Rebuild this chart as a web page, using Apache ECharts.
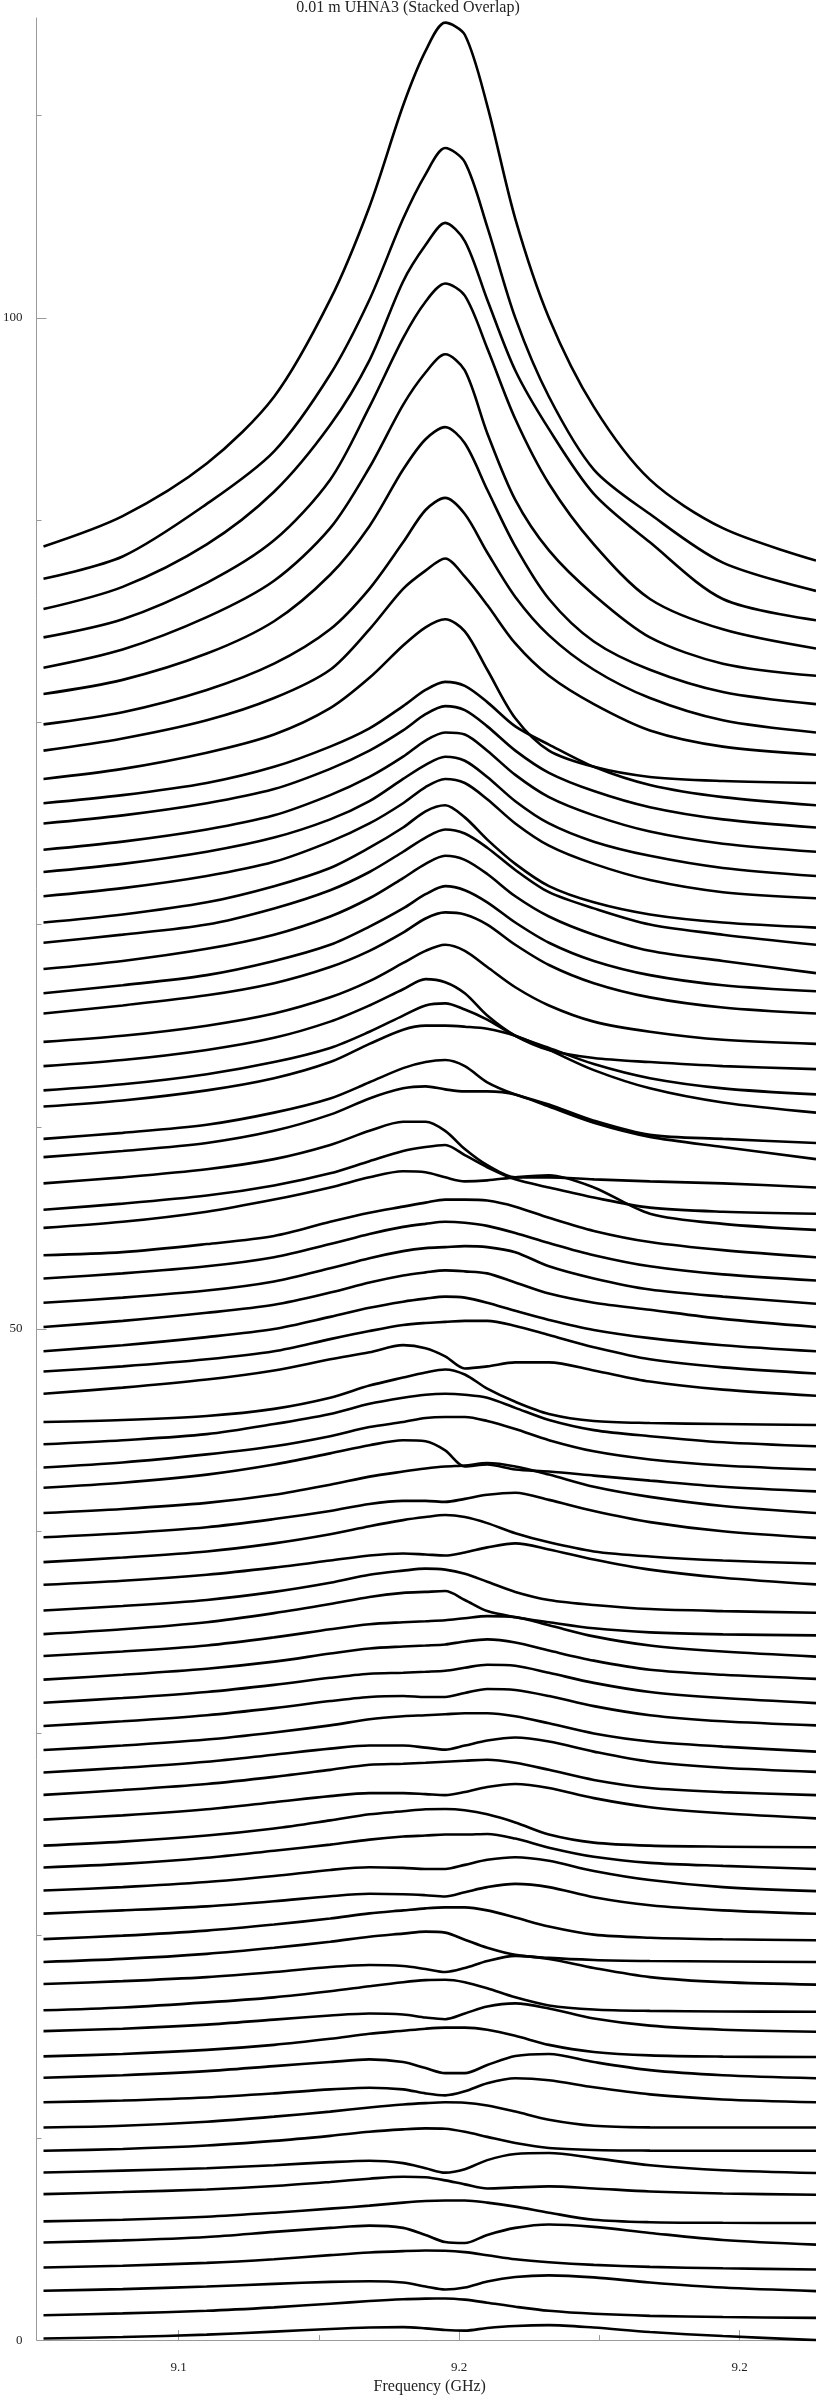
<!DOCTYPE html>
<html><head><meta charset="utf-8">
<script src="https://cdn.jsdelivr.net/npm/echarts@6/dist/echarts.min.js"></script>
<style>html,body{margin:0;padding:0;background:#fff}#chart{width:816px;height:2400px}</style>
</head><body><div id="chart"></div>
<script>
const chartTitle = '0.01 m UHNA3 (Stacked Overlap)';
const xAxisTitle = 'Frequency (GHz)';
const freqGHz = [9.1259, 9.140, 9.155, 9.167, 9.177, 9.184, 9.190, 9.194, 9.1975, 9.201, 9.205, 9.210, 9.216, 9.224, 9.234, 9.247, 9.2636];
const xMajorTicks = [9.15, 9.2, 9.25];
const xMajorLabels = ['9.1', '9.2', '9.2'];
const xMinorTicks = [9.175, 9.225];
const yMajorTicks = [0, 50, 100];
const yMajorLabels = ['0', '50', '100'];
const yMinorTicks = [10, 20, 30, 40, 60, 70, 80, 90, 110];

const trace01 = [88.7, 90.2, 92.8, 96.1, 100.9, 105.5, 110.5, 113.2, 114.6, 114.0, 110.5, 104.9, 100.0, 95.6, 92.0, 89.6, 88.0];
const trace02 = [87.1, 88.2, 90.8, 93.4, 97.2, 100.9, 104.9, 107.1, 108.4, 107.7, 104.5, 100.0, 96.1, 92.5, 90.3, 87.9, 86.5];
const trace03 = [85.6, 86.7, 88.8, 91.4, 94.7, 97.9, 101.8, 103.6, 104.7, 103.8, 100.9, 97.4, 94.5, 91.3, 88.9, 86.1, 85.05];
const trace04 = [84.2, 85.1, 86.9, 89.0, 92.0, 95.6, 99.0, 100.8, 101.7, 101.1, 98.5, 95.0, 91.8, 88.8, 86.1, 84.6, 83.65];
const trace05 = [82.7, 83.6, 85.2, 87.0, 89.6, 92.6, 95.7, 97.3, 98.2, 97.4, 94.3, 91.0, 88.5, 86.3, 84.2, 82.9, 82.3];
const trace06 = [81.4, 82.1, 83.4, 85.0, 87.3, 89.7, 92.5, 94.0, 94.6, 93.8, 91.5, 88.7, 86.1, 84.0, 82.6, 81.5, 80.9];
const trace07 = [79.9, 80.5, 81.6, 82.9, 84.6, 86.6, 88.9, 90.5, 91.1, 90.3, 88.4, 86.2, 84.3, 82.6, 81.2, 80.1, 79.5];
const trace08 = [78.6, 79.2, 80.1, 81.2, 82.6, 84.6, 86.6, 87.5, 88.1, 87.2, 85.8, 83.9, 82.3, 80.9, 79.6, 78.8, 78.4];
const trace09 = [77.2, 77.7, 78.5, 79.4, 80.7, 82.2, 83.8, 84.7, 85.1, 84.5, 82.6, 80.2, 78.6, 77.8, 77.3, 77.1, 77.0];
const trace10 = [76.0, 76.4, 77.0, 77.8, 78.8, 79.7, 80.8, 81.6, 82.0, 81.8, 81.0, 79.8, 78.9, 77.8, 76.9, 76.3, 75.9];
const trace11 = [75.0, 75.4, 76.0, 76.7, 77.7, 78.6, 79.6, 80.4, 80.8, 80.6, 79.8, 78.6, 77.5, 76.6, 75.8, 75.2, 74.8];
const trace12 = [73.7, 74.1, 74.7, 75.4, 76.4, 77.3, 78.3, 79.1, 79.5, 79.4, 78.6, 77.4, 76.3, 75.4, 74.6, 74.0, 73.6];
const trace13 = [72.6, 73.0, 73.6, 74.3, 75.2, 76.1, 77.2, 77.9, 78.3, 78.1, 77.3, 76.1, 75.0, 74.1, 73.4, 72.8, 72.4];
const trace14 = [71.4, 71.8, 72.4, 73.1, 74.1, 75.0, 76.0, 76.8, 77.2, 77.0, 76.2, 75.0, 73.9, 73.0, 72.2, 71.6, 71.3];
const trace15 = [70.1, 70.5, 71.1, 71.9, 72.8, 73.8, 74.8, 75.6, 75.9, 75.3, 74.2, 73.0, 71.9, 71.1, 70.5, 70.1, 69.85];
const trace16 = [69.1, 69.5, 70.0, 70.8, 71.7, 72.6, 73.6, 74.3, 74.7, 74.5, 73.8, 72.7, 71.6, 70.8, 70.0, 69.5, 69.0];
const trace17 = [67.8, 68.2, 68.8, 69.5, 70.4, 71.3, 72.3, 73.0, 73.4, 73.2, 72.5, 71.4, 70.4, 69.5, 68.7, 68.2, 67.6];
const trace18 = [66.6, 67.0, 67.5, 68.2, 69.0, 69.9, 70.8, 71.5, 71.9, 71.7, 71.1, 70.1, 69.1, 68.2, 67.5, 67.0, 66.7];
const trace19 = [65.6, 66.0, 66.5, 67.1, 67.9, 68.7, 69.6, 70.3, 70.6, 70.5, 70.0, 69.0, 68.0, 67.1, 66.4, 65.9, 65.6];
const trace20 = [64.2, 64.5, 65.0, 65.6, 66.4, 67.2, 68.1, 68.7, 69.0, 68.7, 67.9, 66.9, 66.0, 65.2, 64.7, 64.3, 64.1];
const trace21 = [63.0, 63.3, 63.8, 64.4, 65.2, 66.0, 66.8, 67.3, 67.15, 66.6, 65.5, 64.5, 63.8, 63.4, 63.2, 63.0, 62.85];
const trace22 = [61.8, 62.1, 62.6, 63.2, 63.9, 64.7, 65.5, 66.0, 66.1, 65.8, 65.3, 64.5, 63.9, 63.1, 62.4, 61.9, 61.6];
const trace23 = [61.0, 61.3, 61.8, 62.4, 63.2, 64.1, 64.8, 65.0, 65.0, 64.95, 64.85, 64.5, 63.8, 62.8, 61.9, 61.2, 60.7];
const trace24 = [59.4, 59.7, 60.1, 60.7, 61.4, 62.2, 62.9, 63.2, 63.3, 63.0, 62.2, 61.6, 61.1, 60.3, 59.6, 59.4, 59.2];
const trace25 = [58.5, 58.8, 59.2, 59.8, 60.6, 61.4, 61.9, 62.0, 61.85, 61.75, 61.75, 61.6, 61.0, 60.2, 59.5, 59.0, 58.4];
const trace26 = [57.2, 57.5, 57.9, 58.4, 59.1, 59.8, 60.25, 60.25, 59.8, 58.9, 58.1, 57.5, 57.5, 57.4, 57.3, 57.2, 57.0];
const trace27 = [55.9, 56.2, 56.6, 57.1, 57.7, 58.3, 58.8, 59.0, 59.1, 58.6, 58.0, 57.4, 57.0, 56.5, 56.0, 55.8, 55.7];
const trace28 = [55.0, 55.3, 55.8, 56.4, 57.0, 57.5, 57.8, 57.75, 57.5, 57.3, 57.35, 57.5, 57.6, 57.0, 55.7, 55.2, 54.9];
const trace29 = [53.65, 53.8, 54.2, 54.6, 55.3, 55.75, 56.05, 56.25, 56.4, 56.4, 56.35, 56.05, 55.5, 54.85, 54.3, 53.9, 53.55];
const trace30 = [52.5, 52.75, 53.1, 53.55, 54.2, 54.7, 55.05, 55.2, 55.3, 55.25, 55.1, 54.75, 54.25, 53.65, 53.1, 52.7, 52.4];
const trace31 = [51.3, 51.55, 51.9, 52.35, 53.0, 53.5, 53.85, 54.0, 54.05, 54.1, 54.05, 53.8, 53.1, 52.5, 51.95, 51.6, 51.25];
const trace32 = [50.1, 50.4, 50.8, 51.2, 51.8, 52.3, 52.65, 52.8, 52.9, 52.85, 52.75, 52.3, 51.75, 51.3, 50.95, 50.5, 50.1];
const trace33 = [48.9, 49.2, 49.6, 50.0, 50.6, 51.05, 51.35, 51.5, 51.6, 51.55, 51.3, 50.9, 50.45, 49.95, 49.55, 49.2, 48.9];
const trace34 = [47.9, 48.15, 48.5, 48.9, 49.5, 49.9, 50.2, 50.3, 50.35, 50.4, 50.4, 50.15, 49.7, 49.1, 48.5, 48.1, 47.8];
const trace35 = [46.8, 47.1, 47.5, 47.95, 48.5, 48.85, 49.2, 49.05, 48.65, 48.05, 48.15, 48.35, 48.35, 47.95, 47.4, 47.0, 46.7];
const trace36 = [45.4, 45.5, 45.7, 46.05, 46.6, 47.2, 47.6, 47.85, 48.0, 47.75, 47.05, 46.4, 45.8, 45.45, 45.35, 45.3, 45.25];
const trace37 = [44.3, 44.5, 44.8, 45.3, 45.8, 46.3, 46.6, 46.75, 46.8, 46.75, 46.6, 46.1, 45.5, 45.0, 44.7, 44.4, 44.2];
const trace38 = [43.15, 43.4, 43.8, 44.2, 44.7, 45.15, 45.4, 45.6, 45.65, 45.65, 45.45, 45.05, 44.5, 43.95, 43.55, 43.25, 43.05];
const trace39 = [42.15, 42.4, 42.8, 43.3, 43.85, 44.25, 44.5, 44.45, 44.0, 43.2, 43.3, 43.05, 42.95, 42.75, 42.5, 42.2, 41.97];
const trace40 = [40.9, 41.1, 41.4, 41.8, 42.3, 42.7, 42.95, 43.1, 43.2, 43.25, 43.37, 43.2, 42.8, 42.2, 41.7, 41.25, 40.9];
const trace41 = [39.7, 39.9, 40.2, 40.6, 41.0, 41.35, 41.5, 41.5, 41.45, 41.6, 41.8, 41.9, 41.55, 41.0, 40.45, 40.0, 39.67];
const trace42 = [38.47, 38.7, 39.0, 39.4, 39.85, 40.25, 40.55, 40.7, 40.8, 40.7, 40.4, 39.9, 39.45, 39.0, 38.75, 38.55, 38.4];
const trace43 = [37.35, 37.55, 37.85, 38.2, 38.55, 38.8, 38.9, 38.85, 38.8, 38.95, 39.2, 39.4, 39.1, 38.6, 38.1, 37.7, 37.37];
const trace44 = [36.08, 36.3, 36.6, 37.0, 37.45, 37.85, 38.05, 38.15, 38.1, 37.9, 37.5, 37.0, 36.6, 36.35, 36.15, 36.05, 35.97];
const trace45 = [34.91, 35.15, 35.5, 35.95, 36.4, 36.75, 36.95, 37.0, 37.04, 36.6, 36.05, 35.75, 35.5, 35.2, 35.0, 34.9, 34.85];
const trace46 = [33.83, 34.05, 34.35, 34.75, 35.15, 35.4, 35.5, 35.55, 35.6, 35.7, 35.8, 35.75, 35.35, 34.8, 34.35, 34.05, 33.8];
const trace47 = [32.66, 32.9, 33.2, 33.55, 33.95, 34.2, 34.3, 34.35, 34.4, 34.55, 34.65, 34.5, 34.1, 33.6, 33.15, 32.9, 32.7];
const trace48 = [31.52, 31.75, 32.05, 32.4, 32.75, 32.95, 33.0, 33.05, 33.1, 33.25, 33.4, 33.35, 33.0, 32.5, 32.05, 31.75, 31.5];
const trace49 = [30.37, 30.6, 30.9, 31.25, 31.6, 31.8, 31.85, 31.8, 31.8, 32.0, 32.2, 32.15, 31.85, 31.35, 30.9, 30.6, 30.4];
const trace50 = [29.18, 29.4, 29.7, 30.05, 30.4, 30.7, 30.85, 30.9, 30.95, 31.0, 31.0, 30.85, 30.5, 30.0, 29.6, 29.35, 29.1];
const trace51 = [28.07, 28.3, 28.6, 28.95, 29.25, 29.4, 29.4, 29.3, 29.2, 29.4, 29.65, 29.8, 29.6, 29.1, 28.6, 28.3, 28.1];
const trace52 = [26.96, 27.2, 27.5, 27.85, 28.2, 28.45, 28.5, 28.55, 28.6, 28.65, 28.7, 28.55, 28.2, 27.7, 27.3, 27.1, 26.95];
const trace53 = [25.74, 25.95, 26.25, 26.6, 26.9, 27.05, 27.05, 27.0, 26.95, 27.1, 27.35, 27.5, 27.3, 26.8, 26.35, 26.05, 25.8];
const trace54 = [24.45, 24.65, 24.95, 25.3, 25.7, 26.0, 26.15, 26.25, 26.26, 26.2, 26.0, 25.6, 25.0, 24.6, 24.45, 24.4, 24.37];
const trace55 = [23.37, 23.55, 23.85, 24.2, 24.5, 24.75, 24.9, 24.95, 25.0, 25.0, 25.03, 24.8, 24.35, 23.9, 23.6, 23.45, 23.3];
const trace56 = [22.23, 22.4, 22.65, 22.95, 23.25, 23.38, 23.35, 23.3, 23.3, 23.5, 23.75, 23.88, 23.7, 23.2, 22.75, 22.4, 22.2];
const trace57 = [21.09, 21.25, 21.45, 21.7, 21.95, 22.07, 22.05, 22.0, 21.94, 22.15, 22.4, 22.56, 22.4, 21.9, 21.5, 21.25, 21.08];
const trace58 = [19.83, 20.0, 20.25, 20.55, 20.85, 21.1, 21.25, 21.35, 21.4, 21.4, 21.25, 20.9, 20.45, 20.05, 19.9, 19.82, 19.77];
const trace59 = [18.7, 18.85, 19.1, 19.4, 19.7, 19.95, 20.1, 20.2, 20.15, 19.8, 19.4, 19.05, 18.9, 18.8, 18.75, 18.72, 18.7];
const trace60 = [17.61, 17.75, 17.95, 18.2, 18.45, 18.55, 18.5, 18.35, 18.2, 18.4, 18.75, 19.0, 18.85, 18.4, 17.95, 17.7, 17.58];
const trace61 = [16.31, 16.45, 16.7, 16.95, 17.25, 17.5, 17.7, 17.8, 17.82, 17.7, 17.4, 16.95, 16.55, 16.35, 16.28, 16.25, 16.24];
const trace62 = [15.28, 15.4, 15.6, 15.85, 16.05, 16.15, 16.1, 15.95, 15.87, 16.15, 16.5, 16.65, 16.4, 15.9, 15.55, 15.35, 15.25];
const trace63 = [14.03, 14.15, 14.35, 14.6, 14.9, 15.15, 15.3, 15.4, 15.45, 15.45, 15.35, 15.05, 14.6, 14.25, 14.08, 14.02, 14.0];
const trace64 = [12.97, 13.1, 13.3, 13.55, 13.75, 13.88, 13.75, 13.45, 13.2, 13.2, 13.6, 14.05, 14.15, 13.75, 13.35, 13.1, 12.95];
const trace65 = [11.76, 11.85, 12.0, 12.2, 12.4, 12.48, 12.4, 12.2, 12.1, 12.3, 12.7, 12.95, 12.85, 12.5, 12.15, 11.9, 11.76];
const trace66 = [10.51, 10.6, 10.8, 11.05, 11.3, 11.5, 11.65, 11.72, 11.76, 11.74, 11.6, 11.3, 10.9, 10.6, 10.52, 10.51, 10.51];
const trace67 = [9.36, 9.45, 9.62, 9.85, 10.1, 10.3, 10.42, 10.47, 10.45, 10.3, 10.05, 9.75, 9.5, 9.4, 9.37, 9.36, 9.36];
const trace68 = [8.29, 8.38, 8.5, 8.65, 8.8, 8.87, 8.75, 8.5, 8.28, 8.45, 8.9, 9.2, 9.25, 9.0, 8.65, 8.4, 8.26];
const trace69 = [7.22, 7.32, 7.45, 7.62, 7.82, 7.98, 8.08, 8.05, 7.9, 7.7, 7.5, 7.55, 7.6, 7.5, 7.35, 7.25, 7.19];
const trace70 = [5.87, 5.95, 6.1, 6.3, 6.5, 6.65, 6.8, 6.88, 6.9, 6.9, 6.8, 6.6, 6.3, 5.95, 5.83, 5.8, 5.79];
const trace71 = [4.83, 4.93, 5.1, 5.35, 5.55, 5.66, 5.55, 5.2, 4.85, 4.8, 5.2, 5.55, 5.72, 5.6, 5.3, 4.95, 4.72];
const trace72 = [3.59, 3.68, 3.82, 4.0, 4.2, 4.33, 4.4, 4.43, 4.42, 4.35, 4.2, 4.0, 3.85, 3.72, 3.62, 3.55, 3.49];
const trace73 = [2.44, 2.52, 2.65, 2.78, 2.88, 2.91, 2.85, 2.65, 2.5, 2.6, 2.9, 3.12, 3.2, 3.1, 2.85, 2.6, 2.42];
const trace74 = [1.23, 1.32, 1.45, 1.62, 1.8, 1.93, 2.02, 2.05, 2.06, 2.0, 1.85, 1.65, 1.45, 1.3, 1.2, 1.14, 1.1];
const trace75 = [0.08, 0.15, 0.27, 0.42, 0.55, 0.62, 0.64, 0.58, 0.5, 0.47, 0.6, 0.7, 0.74, 0.62, 0.4, 0.2, 0.0];

const traces = [trace01, trace02, trace03, trace04, trace05, trace06, trace07, trace08, trace09, trace10,
  trace11, trace12, trace13, trace14, trace15, trace16, trace17, trace18, trace19, trace20,
  trace21, trace22, trace23, trace24, trace25, trace26, trace27, trace28, trace29, trace30,
  trace31, trace32, trace33, trace34, trace35, trace36, trace37, trace38, trace39, trace40,
  trace41, trace42, trace43, trace44, trace45, trace46, trace47, trace48, trace49, trace50,
  trace51, trace52, trace53, trace54, trace55, trace56, trace57, trace58, trace59, trace60,
  trace61, trace62, trace63, trace64, trace65, trace66, trace67, trace68, trace69, trace70,
  trace71, trace72, trace73, trace74, trace75];

const FONT = '"Liberation Serif", "Times New Roman", "DejaVu Serif", serif';
const AXIS_COLOR = '#9a9a9a';
const TEXT_COLOR = '#222';
const X_MIN = 9.1259, X_MAX = 9.2636, Y_MIN = 0, Y_MAX = 114.83;

function pickLabel(values, labels) {
  return function (v) {
    const i = values.findIndex(t => Math.abs(t - v) < 1e-6);
    return i >= 0 ? labels[i] : '';
  };
}

const chart = echarts.init(document.getElementById('chart'), null, { renderer: 'canvas' });
chart.setOption({
  animation: false,
  backgroundColor: '#fff',
  title: {
    text: chartTitle, left: 'center', top: 0, padding: 0,
    textStyle: { fontFamily: FONT, fontSize: 16, fontWeight: 'normal', color: TEXT_COLOR }
  },
  grid: { left: 41.7, right: 0, top: 18, bottom: 54.3, containLabel: false },
  xAxis: [
    {
      type: 'value', min: X_MIN, max: X_MAX, position: 'bottom', offset: 11,
      axisLine: { show: true, lineStyle: { color: AXIS_COLOR, width: 1 } },
      axisTick: { show: true, inside: true, length: 10, customValues: xMajorTicks, lineStyle: { color: AXIS_COLOR } },
      axisLabel: { show: true, customValues: xMajorTicks, formatter: pickLabel(xMajorTicks, xMajorLabels),
        margin: 10, fontFamily: FONT, fontSize: 13, color: TEXT_COLOR },
      splitLine: { show: false },
      name: xAxisTitle, nameLocation: 'middle', nameGap: 26,
      nameTextStyle: { fontFamily: FONT, fontSize: 16, color: TEXT_COLOR }
    },
    {
      type: 'value', min: X_MIN, max: X_MAX, position: 'bottom', offset: 11,
      axisLine: { show: false },
      axisTick: { show: true, inside: true, length: 5, customValues: xMinorTicks, lineStyle: { color: AXIS_COLOR } },
      axisLabel: { show: false }, splitLine: { show: false }
    }
  ],
  yAxis: [
    {
      type: 'value', min: Y_MIN, max: Y_MAX, position: 'left', offset: 7,
      axisLine: { show: true, lineStyle: { color: AXIS_COLOR, width: 1 } },
      axisTick: { show: true, inside: true, length: 10, customValues: yMajorTicks, lineStyle: { color: AXIS_COLOR } },
      axisLabel: { show: true, customValues: yMajorTicks, formatter: pickLabel(yMajorTicks, yMajorLabels),
        margin: 14, fontFamily: FONT, fontSize: 13, color: TEXT_COLOR },
      splitLine: { show: false }
    },
    {
      type: 'value', min: Y_MIN, max: Y_MAX, position: 'left', offset: 7,
      axisLine: { show: false },
      axisTick: { show: true, inside: true, length: 5, customValues: yMinorTicks, lineStyle: { color: AXIS_COLOR } },
      axisLabel: { show: false }, splitLine: { show: false }
    }
  ],
  series: traces.map((t, i) => ({
    type: 'line',
    name: 'trace ' + (i + 1),
    xAxisIndex: 0, yAxisIndex: 0,
    data: freqGHz.map((f, j) => [f, t[j]]),
    symbol: 'none', showSymbol: false,
    smooth: 0.3,
    silent: true,
    lineStyle: { color: '#000', width: 2.6 }
  }))
});
</script>
</body></html>
